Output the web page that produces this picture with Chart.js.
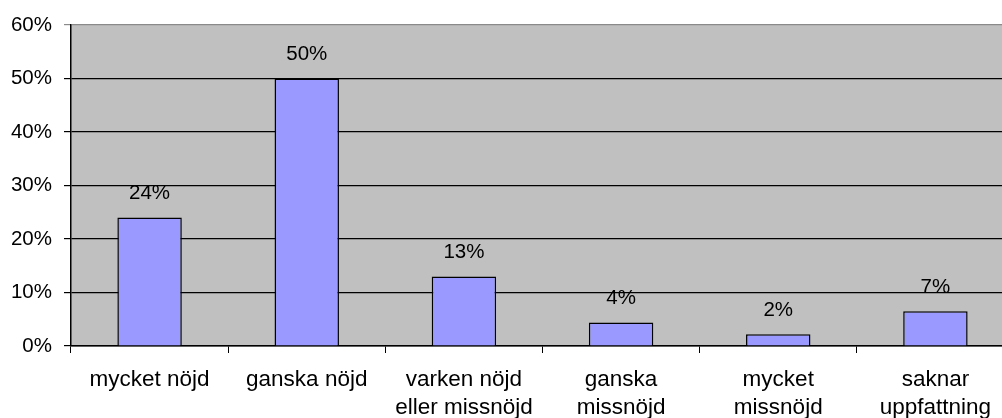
<!DOCTYPE html>
<html>
<head>
<meta charset="utf-8">
<script src="https://cdn.jsdelivr.net/npm/chart.js@4"></script>
<style>
  body { margin: 0; overflow: hidden; background: #fff; }
  #wrap { width: 1016px; height: 418px; position: relative; }
</style>
</head>
<body>
<div id="wrap"><canvas id="svar"></canvas></div>
<script>
// answer categories and share of respondents
var categories = [
  ['mycket nöjd'],
  ['ganska nöjd'],
  ['varken nöjd', 'eller missnöjd'],
  ['ganska', 'missnöjd'],
  ['mycket', 'missnöjd'],
  ['saknar', 'uppfattning']
];
var shares = [0.24, 0.50, 0.13, 0.044, 0.022, 0.065];
var shareLabels = ['24%', '50%', '13%', '4%', '2%', '7%'];

var fam = "'Liberation Sans', Arial, sans-serif";
var yFont = { family: fam, size: 20.5 };
var xFont = { family: fam, size: 22.5, lineHeight: 1.28 };

// gray plot background
var plotBg = {
  id: 'plotBg',
  beforeDraw: function(chart) {
    var a = chart.chartArea, c = chart.ctx;
    c.save();
    c.fillStyle = '#c0c0c0';
    c.fillRect(a.left, a.top, a.right - a.left, a.bottom - a.top);
    c.restore();
  }
};

// value labels above the bars
var valLabels = {
  id: 'valLabels',
  afterDatasetsDraw: function(chart) {
    var c = chart.ctx;
    var meta = chart.getDatasetMeta(0);
    c.save();
    c.font = yFont.size + 'px ' + fam;
    c.fillStyle = '#000';
    c.textAlign = 'center';
    c.textBaseline = 'middle';
    meta.data.forEach(function(bar, i) {
      c.fillText(shareLabels[i], bar.x, bar.y - 24);
    });
    c.restore();
  }
};

new Chart(document.getElementById('svar'), {
  type: 'bar',
  data: {
    labels: categories,
    datasets: [{
      data: shares,
      backgroundColor: '#9999ff',
      borderColor: '#000',
      borderWidth: 1.5,
      borderSkipped: 'bottom',
      categoryPercentage: 1,
      barPercentage: 0.41
    }]
  },
  options: {
    responsive: true,
    maintainAspectRatio: false,
    animation: false,
    layout: { padding: { top: 25, right: 2, left: 0, bottom: 0 } },
    plugins: { legend: { display: false }, tooltip: { enabled: false } },
    scales: {
      x: {
        grid: { offset: true, drawOnChartArea: false, color: '#000', tickLength: 7 },
        border: { color: '#000', width: 1.5 },
        ticks: { color: '#000', font: xFont, padding: 12, maxRotation: 0, autoSkip: false },
        afterFit: function(s) { s.height = 72; }
      },
      y: {
        min: 0, max: 0.6,
        grid: {
          color: function(ctx) { return ctx.tick && ctx.tick.value >= 0.6 ? '#8a8a8a' : '#000'; },
          tickLength: 7,
          lineWidth: 1.2
        },
        border: { color: '#000', width: 1.5 },
        ticks: {
          stepSize: 0.1, color: '#000', font: yFont, padding: 12,
          callback: function(v) { return Math.round(v * 100) + '%'; }
        },
        afterFit: function(s) { s.width = 71; }
      }
    }
  },
  plugins: [plotBg, valLabels]
});
</script>
</body>
</html>
